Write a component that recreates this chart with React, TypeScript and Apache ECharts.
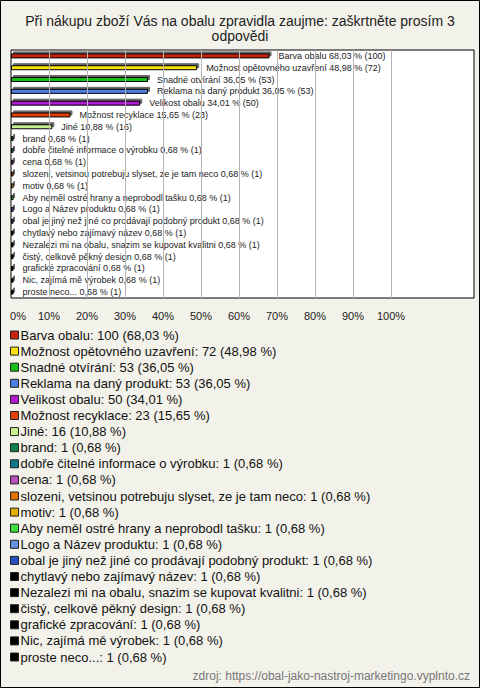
import React, { useEffect, useRef } from 'react';
import * as echarts from 'echarts';

const TITLE = 'Při nákupu zboží Vás na obalu zpravidla zaujme: zaškrtněte prosím 3\nodpovědi';
const SOURCE = 'zdroj: https://obal-jako-nastroj-marketingo.vyplnto.cz';

const categories = [
  'Barva obalu',
  'Možnost opětovného uzavření',
  'Snadné otvírání',
  'Reklama na daný produkt',
  'Velikost obalu',
  'Možnost recyklace',
  'Jiné',
  'brand',
  'dobře čitelné informace o výrobku',
  'cena',
  'slozeni, vetsinou potrebuju slyset, ze je tam neco',
  'motiv',
  'Aby neměl ostré hrany a neprobodl tašku',
  'Logo a Název produktu',
  'obal je jiný než jiné co prodávají podobný produkt',
  'chytlavý nebo zajímavý název',
  'Nezalezi mi na obalu, snazim se kupovat kvalitni',
  'čistý, celkově pěkný design',
  'grafické zpracování',
  'Nic, zajímá mě výrobek',
  'proste neco...',
];

const counts = [100, 72, 53, 53, 50, 23, 16, 1, 1, 1, 1, 1, 1, 1, 1, 1, 1, 1, 1, 1, 1];

const percents = [
  68.03, 48.98, 36.05, 36.05, 34.01, 15.65, 10.88, 0.68, 0.68, 0.68, 0.68,
  0.68, 0.68, 0.68, 0.68, 0.68, 0.68, 0.68, 0.68, 0.68, 0.68,
];

const colors = [
  '#c8240c', '#f8e010', '#18c018', '#4f7fe0', '#b21ad0', '#e0400a', '#c8f08c',
  '#108048', '#107a88', '#b850c0', '#e07000', '#e0b000', '#40e040', '#6890e0',
  '#2850c0', '#000000', '#000000', '#000000', '#000000', '#000000', '#000000',
];

const gridTicks = [10, 20, 30, 40, 50, 60, 70, 80, 90, 100];
const AXIS_MAX = 121.84;

const FONT = 'Liberation Sans, Arial, sans-serif';

const fmt = (v: number) => v.toFixed(2).replace('.', ',');

export default function App() {
  const ref = useRef<HTMLDivElement>(null);

  useEffect(() => {
    if (!ref.current) return;
    const chart = echarts.init(ref.current, undefined, { renderer: 'svg' });

    const barSeries = categories.map((name, i) => ({
      name,
      type: 'bar',
      stack: 'all',
      barWidth: 5,
      z: 2,
      data: categories.map((_, j) => (j === i ? percents[i] : '-')),
      itemStyle: {
        color: colors[i],
        borderColor: '#000',
        borderWidth: 1,
        shadowColor: 'rgba(0,0,0,0.6)',
        shadowBlur: 0,
        shadowOffsetX: 2,
        shadowOffsetY: -2,
      },
      label: {
        show: true,
        position: 'right',
        distance: 9,
        fontSize: 9,
        fontFamily: FONT,
        color: '#222',
        formatter: () => `${name} ${fmt(percents[i])} % (${counts[i]})`,
      },
      emphasis: { disabled: true },
    }));

    const option: any = {
      animation: false,
      backgroundColor: '#f3f2ea',
      title: {
        text: TITLE,
        left: 'center',
        top: 13,
        padding: 0,
        textStyle: {
          fontFamily: FONT,
          fontSize: 14,
          fontWeight: 'normal',
          color: '#222',
          lineHeight: 15,
        },
      },
      grid: {
        left: 11,
        top: 50,
        width: 463,
        height: 248,
        show: true,
        backgroundColor: '#ffffff',
        borderColor: '#000',
        borderWidth: 1,
      },
      xAxis: {
        type: 'value',
        min: 0,
        max: AXIS_MAX,
        interval: 10,
        splitLine: { show: false },
        axisLine: { show: false },
        axisTick: { show: false },
        axisLabel: {
          margin: 12,
          fontSize: 11,
          fontFamily: FONT,
          color: '#222',
          showMaxLabel: false,
          formatter: (v: number) => {
            if (v > 100) return '';
            if (v === 0) return '{z|0%}';
            return `${v}%`;
          },
          rich: {
            z: { fontSize: 11, fontFamily: FONT, color: '#222', padding: [0, 0, 0, 14] },
          },
        },
      },
      yAxis: {
        type: 'category',
        data: categories,
        inverse: true,
        axisLabel: { show: false },
        axisTick: { show: false },
        axisLine: { show: false },
        splitLine: { show: false },
      },
      legend: {
        data: categories,
        orient: 'vertical',
        left: 10,
        top: 327,
        padding: 0,
        itemWidth: 8,
        itemHeight: 8,
        itemGap: 0.1,
        icon: 'rect',
        selectedMode: false,
        itemStyle: { borderColor: '#222', borderWidth: 1, shadowBlur: 0, shadowOffsetX: 0, shadowOffsetY: 0, shadowColor: 'transparent' },
        textStyle: {
          fontFamily: FONT,
          fontSize: 13,
          color: '#111',
          lineHeight: 16,
          padding: [0, 0, 0, -3],
        },
        formatter: (name: string) => {
          const i = categories.indexOf(name);
          return `${name}: ${counts[i]} (${fmt(percents[i])} %)`;
        },
      },
      graphic: [
        {
          type: 'rect',
          silent: true,
          z: 100,
          shape: { x: 0.5, y: 0.5, width: 479, height: 687 },
          style: { fill: 'none', stroke: '#000', lineWidth: 1 },
        },
        {
          type: 'text',
          silent: true,
          right: 10,
          top: 670,
          style: {
            text: SOURCE,
            fontFamily: FONT,
            fontSize: 12,
            fill: '#777',
          },
        },
      ],
      series: [
        {
          name: '__grid',
          type: 'line',
          data: [],
          z: 1,
          silent: true,
          markLine: {
            silent: true,
            symbol: 'none',
            label: { show: false },
            emphasis: { disabled: true },
            lineStyle: { color: '#b4b4b4', width: 1, type: 'solid' },
            data: gridTicks.map((v) => ({ xAxis: v })),
          },
        },
        ...barSeries,
      ],
    };

    chart.setOption(option);
    return () => chart.dispose();
  }, []);

  return (
    <div
      ref={ref}
      style={{ position: 'absolute', left: 0, top: 0, width: 480, height: 688 }}
    />
  );
}
